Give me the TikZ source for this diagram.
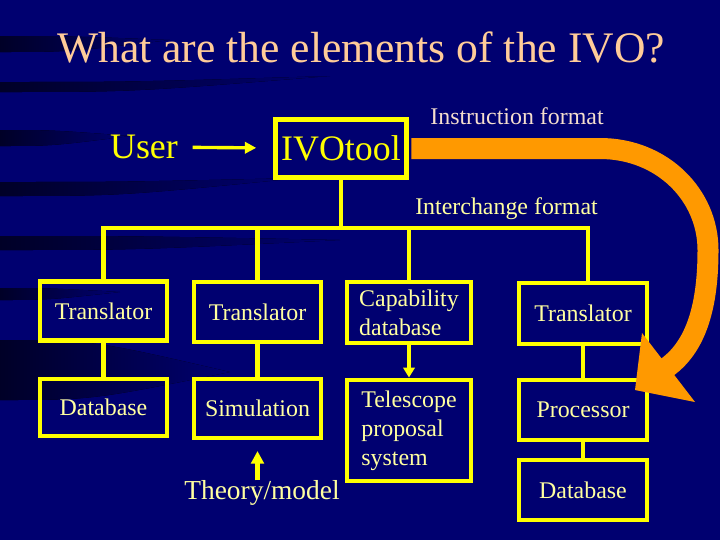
\documentclass[tikz,border=0pt]{standalone}
\usepackage{fontspec}
\setmainfont{Liberation Serif}
\usetikzlibrary{arrows.meta}

\definecolor{slidebg}{RGB}{0,0,112}
\definecolor{boxline}{RGB}{255,255,0}
\definecolor{boxtext}{RGB}{255,255,160}
\definecolor{titlepeach}{RGB}{255,204,153}
\definecolor{noteink}{RGB}{245,222,205}
\definecolor{bandorange}{RGB}{255,153,0}

\begin{document}
\begin{tikzpicture}[
        x=0.025cm, y=-0.025cm,
        font=\fontsize{17}{20.5}\selectfont,
        unit box/.style={draw=boxline, line width=3.5pt, inner sep=0pt, text=boxtext, align=left},
        wire/.style={draw=boxline, line width=3pt},
        feed/.style={draw=boxline, line width=2.4pt, -{Triangle[length=8pt, width=8pt]}},
        band/.style={draw=bandorange, line width=0.525cm},
        streak/.style={left color=black!65!slidebg, right color=slidebg, draw=none},
    ]

    % Background of the slide with its dark swooshes
    \fill[slidebg] (0,0) rectangle (720,540);
    \foreach \ya/\yb/\xe/\ye in {36/52/170/40, 82/92/330/76, 130/146/130/136, 182/196/300/178, 236/250/340/240, 288/300/120/292, 340/400/230/372} {
        \fill[streak] (0,\ya) .. controls (0.4*\xe,\ya) .. (\xe,\ye) .. controls (0.4*\xe,\yb) .. (0,\yb) -- cycle;
    }

    % Title
    \node[text=titlepeach, font=\fontsize{31}{37}\selectfont] (title) at (361,47) {What are the elements of the IVO?};

    % User and the tool
    \node[text=boxline, font=\fontsize{25.5}{30}\selectfont] (user) at (144,147) {User};
    \node[unit box, text=boxline, font=\fontsize{25.5}{30}\selectfont,
          minimum width=131*0.025cm, minimum height=58*0.025cm] (ivo) at (341,148.5) {IVOtool};
    \draw[feed, shorten <=7pt, shorten >=12pt] (user) -- (ivo);

    % Labels of the two formats
    \node[text=noteink] (instr) at (517,116) {Instruction format};
    \node[text=boxtext] (inter) at (506.5,209) {Interchange format};

    % Boxes: name / x / y / width / height / text
    \foreach \name/\x/\y/\w/\h/\txt in {
        tra/103.5/311/127/59/Translator,
        dba/103.5/407.5/127/57/Database,
        trb/257.5/312/127/60/Translator,
        sim/257.5/408.5/127/59/Simulation,
        cap/409/312.5/124/61/{Capability\\database},
        tel/409/430.5/124/101/{Telescope\\proposal\\system},
        trc/583/313.5/128/61/Translator,
        pro/583/410/128/60/Processor,
        dbc/583/490/128/60/Database%
    } {
        \node[unit box, minimum width=\w*0.025cm, minimum height=\h*0.025cm] (\name) at (\x,\y) {\txt};
    }

    % Bus from the tool down to the four columns
    \coordinate (bus) at (341,228);
    \coordinate (busend) at (588,228);
    \draw[wire] (ivo.south) -- (ivo.south |- bus);
    \draw[wire] (tra.north) |- (busend) -- (busend |- trc.north);
    \draw[wire] (trb.north) -- (trb.north |- bus);
    \draw[wire] (cap.north) -- (cap.north |- bus);

    % Links inside each column
    \draw[wire] (tra.south) -- (dba.north);
    \draw[wire] (trb.south) -- (sim.north);
    \draw[wire] (trc.south) -- (pro.north);
    \draw[wire] (pro.south) -- (dbc.north);
    \draw[feed, line width=2.6pt, -{Triangle[length=7pt, width=8pt]}] (cap.south) -- (tel.north);

    % Theory feeding the simulation
    \node[text=boxtext, inner sep=0pt, font=\fontsize{19.5}{23}\selectfont] (theory) at (262,493) {Theory/model};
    \draw[feed, line width=3pt, shorten >=7.5pt, -{Triangle[length=9pt, width=9pt]}] (theory.north -| sim.south) -- (sim.south);

    % Instruction format: the big orange arrow
    \draw[band, shorten <=1.75pt] (ivo.east) -- (600,148.5) .. controls (662,148.5) and (708,195) .. (708,250)
        .. controls (708,302) and (698,348) .. (663,370);
    \fill[bandorange] (642,333) -- (695,402) -- (635,390) -- cycle;

\end{tikzpicture}
\end{document}
